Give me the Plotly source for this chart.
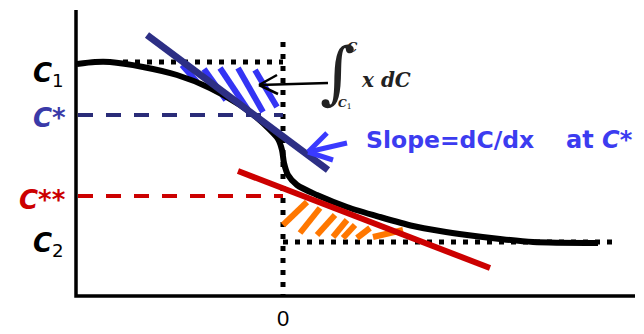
import plotly.graph_objects as go

# Concentration profile C(x) across the interface (pixel space of the sketch)
curve_x = [77, 95, 110, 143, 177, 210, 240, 256, 269, 278, 282, 284, 288, 297,
           317, 347, 380, 413, 440, 467, 500, 533, 598]
curve_y = [64, 62, 62, 67, 75, 88, 105, 117, 129, 139, 150, 163, 175, 185,
           195, 207, 217, 226, 231, 235, 239, 242, 243]

# tangent lines at C* and C**
tan1_x, tan1_y = [147, 328], [35, 170]
tan2_x, tan2_y = [238, 490], [171, 268]

# hatch strokes (segments separated by None)
blue_hatch_x = [182, 197, None, 204, 226, None, 220, 248, None, 238, 263, None, 255, 277]
blue_hatch_y = [65, 82, None, 69, 100, None, 68, 110, None, 68, 112, None, 70, 107]
orange_hatch_x = [283, 307, None, 300, 320, None, 317, 335, None, 333, 347, None,
                  343, 355, None, 357, 370, None, 373, 403]
orange_hatch_y = [225, 202, None, 233, 208, None, 235, 215, None, 237, 220, None,
                  238, 225, None, 238, 228, None, 237, 230]

# reference levels
y_c1, y_cstar, y_c2star, y_c2 = 62, 115, 196, 242
x_zero = 283

fig = go.Figure()

def seg(x, y, color, width, dash="solid"):
    fig.add_trace(go.Scatter(x=x, y=y, mode="lines", hoverinfo="skip",
                             line=dict(color=color, width=width, dash=dash)))

# axes
seg([76, 76, 635], [10, 296, 296], "black", 3.5)
# dotted guides
seg([x_zero, x_zero], [42, 296], "black", 5, "5px,7px")
seg([123, x_zero], [y_c1, y_c1], "black", 5, "5px,7px")
seg([x_zero, 612], [y_c2, y_c2], "black", 5, "5px,7px")
# dashed levels
seg([78, x_zero], [y_cstar, y_cstar], "#2a2c78", 4, "15px,13px")
seg([78, x_zero], [y_c2star, y_c2star], "#cc0000", 4, "15px,13px")
# hatches
seg(blue_hatch_x, blue_hatch_y, "#3434f4", 6)
seg(orange_hatch_x, orange_hatch_y, "#ff7700", 6)
# profile
fig.add_trace(go.Scatter(x=curve_x, y=curve_y, mode="lines", hoverinfo="skip",
                         line=dict(color="black", width=6, shape="spline", smoothing=0.8)))
# tangents
seg(tan1_x, tan1_y, "#2d2f85", 7)
seg(tan2_x, tan2_y, "#cc0000", 6)
# arrows
seg([328, 259, None, 259, 277, None, 259, 278], [83, 85, None, 85, 75, None, 85, 94], "black", 2.5)
seg([347, 308, None, 308, 327, None, 308, 333], [143, 152, None, 152, 133, None, 152, 160], "#3a3aff", 5)

lab = dict(family="DejaVu Sans", size=26)
def note(x, y, text, font, xanchor="center"):
    fig.add_annotation(x=x, y=y, xref="x", yref="y", text=text, showarrow=False,
                       xanchor=xanchor, yanchor="middle", font=font)

note(66, 74, "<b><i>C</i></b><sub>1</sub>", dict(lab, color="black"), "right")
note(68, 118, "<b><i>C*</i></b>", dict(lab, color="#3a3aa8"), "right")
note(68, 200, "<b><i>C**</i></b>", dict(lab, color="#cc0000"), "right")
note(66, 244, "<b><i>C</i></b><sub>2</sub>", dict(lab, color="black"), "right")
note(x_zero, 318, "0", dict(family="Liberation Sans", size=22, color="black"))
note(364, 140, "<b>Slope=dC/dx</b>", dict(family="DejaVu Sans", size=23.5, color="#3c3cf0"), "left")
note(564, 140, "<b>at <i>C*</i></b>", dict(family="DejaVu Sans", size=24, color="#3c3cf0"), "left")
note(337, 72, "∫", dict(family="DejaVu Serif", size=68, color="#222222"))
note(352, 47, "<b><i>C</i></b>", dict(family="DejaVu Serif", size=13, color="#222222"))
note(345, 104, "<b><i>C</i></b><sub>1</sub>", dict(family="DejaVu Serif", size=11, color="#222222"))
note(386, 80, "<b><i>x dC</i></b>", dict(family="DejaVu Serif", size=20, color="#222222"))

# page body has an 8px margin, so shift the ranges to keep sketch pixels aligned
fig.update_layout(
    width=644, height=334, margin=dict(l=0, r=0, t=0, b=0),
    plot_bgcolor="white", paper_bgcolor="white", showlegend=False,
    xaxis=dict(range=[8, 652], visible=False, fixedrange=True),
    yaxis=dict(range=[342, 8], visible=False, fixedrange=True),
)
fig.write_html("out.html")
